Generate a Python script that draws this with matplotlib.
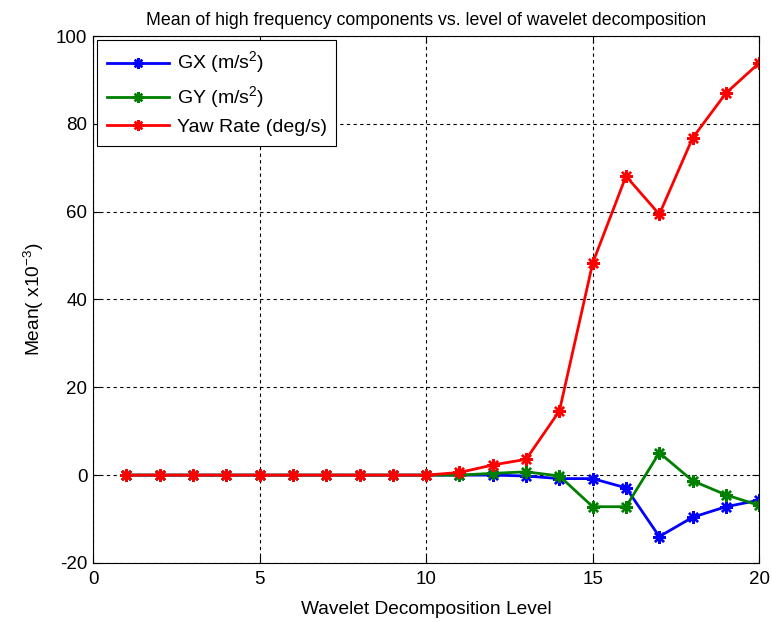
import numpy as np
import matplotlib.pyplot as plt

plt.rcParams['font.family'] = ['Liberation Sans', 'DejaVu Sans']
plt.rcParams['mathtext.fontset'] = 'custom'
plt.rcParams['mathtext.rm'] = 'Liberation Sans'
plt.rcParams['axes.unicode_minus'] = False

# Data (in units of 1e-3)
levels = np.arange(1, 21)
gx = [0, 0, 0, 0, 0, 0, 0, 0, 0, 0,
      0, 0, -0.2, -0.8, -0.8, -2.9, -14.0, -9.6, -7.2, -5.7]
gy = [0, 0, 0, 0, 0, 0, 0, 0, 0, 0,
      0, 0.4, 0.75, -0.2, -7.2, -7.2, 5.1, -1.3, -4.5, -6.9]
yaw = [0, 0, 0, 0, 0, 0, 0, 0, 0, 0,
       0.6, 2.3, 3.6, 14.6, 48.3, 68.1, 59.4, 76.8, 87.0, 93.9]

series_labels = ['GX (m/s$^2$)', 'GY (m/s$^2$)', 'Yaw Rate (deg/s)']
colors = ['#0000ff', '#008000', '#ff0000']

fig = plt.figure(figsize=(7.72, 6.22), dpi=100)
ax = fig.add_axes([0.1205, 0.095, 0.863, 0.847])

for vals, label, color in zip([gx, gy, yaw], series_labels, colors):
    ax.plot(levels, vals, color=color, linewidth=2, marker=(8, 2, 0),
            markersize=9, markeredgewidth=1.7, label=label)

ax.set_xlim(0, 20)
ax.set_ylim(-20, 100)
ax.set_xticks(np.arange(0, 21, 5))
ax.set_yticks(np.arange(-20, 101, 20))
ax.tick_params(direction='in', top=True, right=True, labelsize=13.5,
               length=5, width=0.8)
ax.tick_params(axis='x', pad=6)
ax.tick_params(axis='y', pad=4)
ax.grid(True, color='black', linestyle=(0, (3, 3)), linewidth=0.8)
for s in ax.spines.values():
    s.set_linewidth(0.8)

ax.set_title('Mean of high frequency components vs. level of wavelet decomposition',
             fontsize=12.8, pad=8)
ax.set_xlabel('Wavelet Decomposition Level', fontsize=13.8, labelpad=9)
ax.set_ylabel('Mean( x10$^{-3}$)', fontsize=13.8, labelpad=7)

leg = ax.legend(loc='upper left', fontsize=14, frameon=True, fancybox=False,
                edgecolor='black', framealpha=1, borderaxespad=0.2,
                borderpad=0.5, handlelength=3.2, handletextpad=0.4,
                labelspacing=0.4, markerscale=0.85)
leg.get_frame().set_linewidth(0.8)

fig.savefig('out.png', dpi=100)
